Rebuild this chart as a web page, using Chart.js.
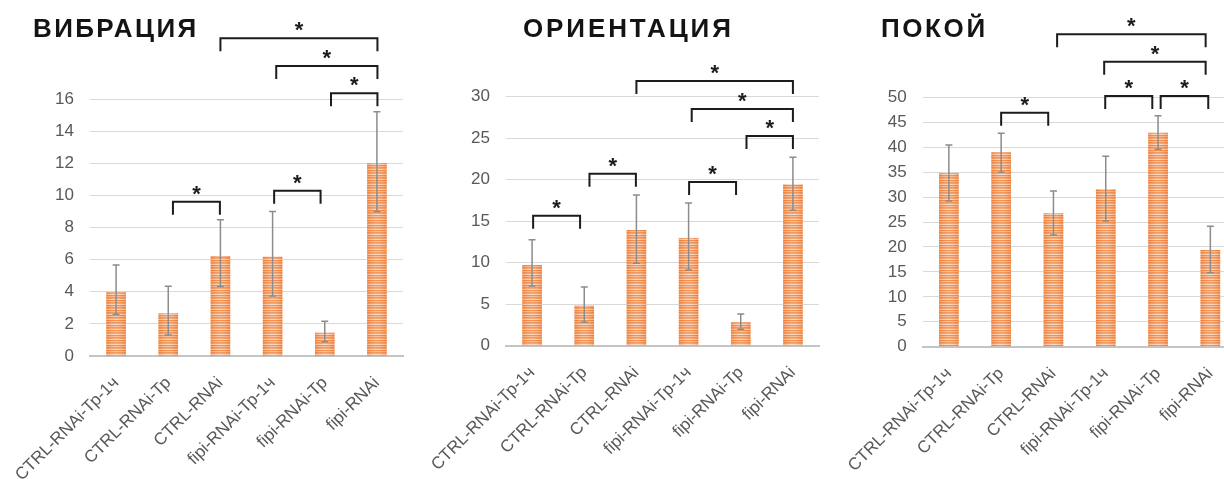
<!DOCTYPE html>
<html>
<head>
<meta charset="utf-8">
<script src="https://cdn.jsdelivr.net/npm/chart.js@4/dist/chart.umd.min.js"></script>
<style>
  html, body { margin: 0; padding: 0; background: #fff; width: 1224px; height: 479px; overflow: hidden; position: relative; }
  canvas.panel { position: absolute; top: 0; }
</style>
</head>
<body>
<canvas id="vibration" class="panel" width="410" height="479" style="left:0px"></canvas>
<canvas id="orientation" class="panel" width="410" height="479" style="left:410px"></canvas>
<canvas id="rest" class="panel" width="420" height="479" style="left:820px"></canvas>
<script>
// Groups shared by all three panels
const categories = ['CTRL-RNAi-Тр-1ч', 'CTRL-RNAi-Тр', 'CTRL-RNAi', 'fipi-RNAi-Тр-1ч', 'fipi-RNAi-Тр', 'fipi-RNAi'];

// ВИБРАЦИЯ
const vibrationTitle = 'ВИБРАЦИЯ';
const vibrationMean = [3.97, 2.66, 6.23, 6.18, 1.45, 12.02];
const vibrationErrUp = [1.70, 1.68, 2.26, 2.81, 0.71, 3.19];
const vibrationErrDown = [1.37, 1.35, 1.91, 2.44, 0.56, 3.03];
const vibrationAxis = [0, 16, 2];            // min, max, step
// significance brackets: [from group, to group, height in axis units]
const vibrationBrackets = [[1.09, 1.99, 9.60], [3.03, 3.92, 10.29], [4.12, 5.01, 16.36], [3.07, 5.01, 18.06], [2.00, 5.01, 19.78]];

// ОРИЕНТАЦИЯ
const orientationTitle = 'ОРИЕНТАЦИЯ';
const orientationMean = [9.72, 4.82, 13.94, 12.98, 2.82, 19.45];
const orientationErrUp = [3.05, 2.25, 4.22, 4.21, 1.00, 3.25];
const orientationErrDown = [2.53, 2.00, 4.01, 3.86, 0.84, 3.14];
const orientationAxis = [0, 30, 5];
const orientationBrackets = [[0.02, 0.92, 15.66], [1.10, 1.99, 20.72], [3.01, 3.91, 19.72], [4.11, 5.00, 25.27], [3.06, 5.00, 28.52], [2.00, 5.00, 31.89]];

// ПОКОЙ
const restTitle = 'ПОКОЙ';
const restMean = [34.83, 38.98, 26.75, 31.62, 42.91, 19.39];
const restErrUp = [5.62, 3.81, 4.47, 6.56, 3.41, 4.75];
const restErrDown = [5.61, 4.01, 4.35, 6.42, 3.33, 4.55];
const restAxis = [0, 50, 5];
const restBrackets = [[1.00, 1.90, 46.92], [2.99, 3.89, 50.27], [4.05, 4.96, 50.27], [2.97, 4.91, 57.15], [2.07, 4.91, 62.64]];

const FONT = '"Liberation Sans", Arial, sans-serif';

// horizontal orange stripes used to fill the bars
function stripeFill() {
  const rows = ['#ef7f35', '#f8b68c', '#f08a45', '#f39a60', '#fbd5bc'];
  const c = document.createElement('canvas');
  c.width = 4; c.height = rows.length;
  const g = c.getContext('2d');
  rows.forEach((col, r) => { g.fillStyle = col; g.fillRect(0, r, 4, 1); });
  return g.createPattern(c, 'repeat');
}

// error bars, significance brackets with asterisks, and the panel heading
const decorations = {
  id: 'decorations',
  afterDatasetsDraw(chart) {
    const o = chart.options.plugins.decorations;
    const xs = chart.scales.x, ys = chart.scales.y, ctx = chart.ctx;
    ctx.save();
    // soft sheen across each bar: darker edges, lighter middle
    chart.getDatasetMeta(0).data.forEach(bar => {
      const { x, y, base, width } = bar.getProps(['x', 'y', 'base', 'width'], true);
      const g = ctx.createLinearGradient(x - width / 2, 0, x + width / 2, 0);
      g.addColorStop(0, 'rgba(232,110,40,0.35)');
      g.addColorStop(0.5, 'rgba(255,255,255,0.15)');
      g.addColorStop(1, 'rgba(232,110,40,0.35)');
      ctx.fillStyle = g;
      ctx.fillRect(x - width / 2, y, width, base - y);
    });
    ctx.strokeStyle = '#8c8c8c';
    ctx.lineWidth = 1.5;
    o.mean.forEach((m, i) => {
      const px = xs.getPixelForValue(i);
      const hi = ys.getPixelForValue(m + o.up[i]);
      const lo = ys.getPixelForValue(m - o.down[i]);
      ctx.beginPath();
      ctx.moveTo(px, hi); ctx.lineTo(px, lo);
      ctx.moveTo(px - 3.5, hi); ctx.lineTo(px + 3.5, hi);
      ctx.moveTo(px - 3.5, lo); ctx.lineTo(px + 3.5, lo);
      ctx.stroke();
    });
    ctx.restore();
  },
  afterDraw(chart) {
    const o = chart.options.plugins.decorations;
    const xs = chart.scales.x, ys = chart.scales.y, ctx = chart.ctx;
    ctx.save();
    ctx.strokeStyle = '#1c1c1c';
    ctx.fillStyle = '#1c1c1c';
    ctx.lineWidth = 2;
    ctx.font = 'bold 22px ' + FONT;
    ctx.textAlign = 'center';
    ctx.textBaseline = 'alphabetic';
    o.brackets.forEach(([a, b, lvl]) => {
      const xa = xs.getPixelForValue(a), xb = xs.getPixelForValue(b);
      const yl = ys.getPixelForValue(lvl);
      ctx.beginPath();
      ctx.moveTo(xa, yl + 13); ctx.lineTo(xa, yl); ctx.lineTo(xb, yl); ctx.lineTo(xb, yl + 13);
      ctx.stroke();
      ctx.fillText('*', (xa + xb) / 2, yl - 1);
    });
    ctx.font = 'bold 26px ' + FONT;
    ctx.textAlign = 'left';
    ctx.fillStyle = '#141414';
    if ('letterSpacing' in ctx) ctx.letterSpacing = o.titleSpacing + 'px';
    ctx.fillText(o.title, o.titleX, 36.5);
    ctx.restore();
  }
};

function makePanel(id, title, mean, up, down, axis, brackets, box) {
  new Chart(document.getElementById(id), {
    type: 'bar',
    data: {
      labels: categories,
      datasets: [{
        data: mean,
        backgroundColor: stripeFill(),
        borderWidth: 0,
        categoryPercentage: 1,
        barPercentage: 0.375
      }]
    },
    options: {
      responsive: false,
      animation: false,
      devicePixelRatio: 1,
      layout: { padding: { top: box.top, right: box.right, left: 0, bottom: 0 } },
      plugins: {
        legend: { display: false },
        tooltip: { enabled: false },
        decorations: { mean, up, down, brackets, title, titleX: box.titleX, titleSpacing: box.titleSpacing }
      },
      scales: {
        x: {
          grid: { display: false, drawTicks: false },
          border: { display: true, color: '#c4c4c4', width: 2 },
          ticks: {
            autoSkip: false, minRotation: 45, maxRotation: 45, padding: 17,
            color: '#595959', font: { family: FONT, size: 17 }
          },
          afterFit(s) { s.height = box.xHeight; s.paddingLeft = 0; s.paddingRight = 0; }
        },
        y: {
          min: axis[0], max: axis[1],
          grid: { color: '#d9d9d9', lineWidth: 1, drawTicks: false },
          border: { display: false },
          ticks: {
            stepSize: axis[2], padding: 16,
            color: '#595959', font: { family: FONT, size: 17 }
          },
          afterFit(s) { s.width = box.yWidth; }
        }
      }
    },
    plugins: [decorations]
  });
}

makePanel('vibration', vibrationTitle, vibrationMean, vibrationErrUp, vibrationErrDown, vibrationAxis, vibrationBrackets,
  { top: 99, right: 7, yWidth: 90, xHeight: 123, titleX: 33, titleSpacing: 2.4 });
makePanel('orientation', orientationTitle, orientationMean, orientationErrUp, orientationErrDown, orientationAxis, orientationBrackets,
  { top: 96.7, right: 1, yWidth: 96, xHeight: 133.3, titleX: 523 - 410, titleSpacing: 2.9 });
makePanel('rest', restTitle, restMean, restErrUp, restErrDown, restAxis, restBrackets,
  { top: 97.3, right: 3.5, yWidth: 102.7, xHeight: 132.3, titleX: 881 - 820, titleSpacing: 2.6 });
</script>
</body>
</html>
